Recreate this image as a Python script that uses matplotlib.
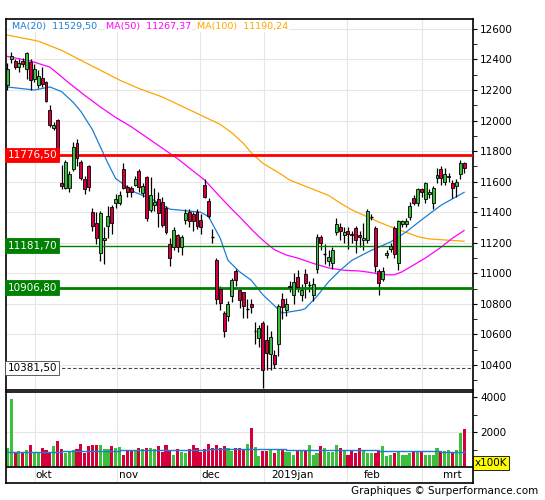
import matplotlib
matplotlib.use("Agg")
import matplotlib.pyplot as plt
from matplotlib.patches import Rectangle
import numpy as np

opens = [12230,12400,12390,12350,12390,12340,12385,12270,12230,12280,12255,12070,11950,12005,11590,11560,11560,11680,11850,11730,
         11620,11700,11400,11330,11130,11220,11310,11435,11460,11460,11680,11565,11560,11580,11670,11525,11630,11415,11450,11485,
         11465,11425,11190,11170,11250,11170,11350,11400,11390,11400,11350,11580,11475,11240,11085,10900,10740,10720,10850,11015,
         10890,10875,10760,10800,10620,10575,10675,10565,10470,10465,10535,10835,10760,10910,10860,10975,10860,10995,10920,10860,
         11030,11240,11120,11080,11070,11270,11300,11250,11280,11260,11295,11250,11220,11220,11370,11295,11015,10960,11120,11160,
         11295,11070,11320,11320,11370,11490,11460,11550,11485,11520,11460,11625,11685,11600,11630,11590,11570,11650,11720]
highs = [12380,12450,12400,12400,12410,12450,12400,12370,12330,12350,12260,12100,11990,12010,11710,11740,11670,11860,11880,11740,
         11640,11710,11430,11400,11410,11300,11440,11450,11520,11540,11720,11580,11570,11640,11680,11590,11640,11630,11560,11530,
         11500,11440,11230,11300,11260,11250,11420,11420,11400,11420,11390,11620,11490,11290,11100,10920,10750,10820,10970,11030,
         10900,10880,10830,10830,10680,10660,10690,10660,10620,10500,10800,10870,10840,10950,11000,11020,10930,11030,10950,10970,
         11260,11250,11190,11150,11170,11360,11330,11300,11300,11280,11310,11280,11330,11420,11390,11310,11030,11040,11150,11200,
         11310,11350,11350,11360,11470,11510,11560,11560,11600,11550,11570,11690,11700,11690,11660,11610,11620,11740,11730]
lows = [12200,12380,12340,12320,12350,12270,12200,12250,12210,12220,12120,11960,11940,11740,11550,11550,11530,11670,11700,11610,
        11520,11540,11280,11190,11080,11060,11230,11260,11430,11450,11550,11500,11500,11570,11530,11500,11340,11400,11410,11300,
        11300,11260,11050,11150,11140,11120,11320,11300,11280,11290,11260,11490,11360,11200,10800,10760,10580,10690,10810,10920,
        10770,10710,10710,10740,10540,10520,10250,10370,10370,10380,10460,10700,10720,10880,10800,10880,10820,10840,10880,10820,
        11000,11150,11060,11050,11030,11250,11220,11200,11160,11200,11130,11170,11150,11200,11350,11010,10860,10950,11100,11140,
        11100,11020,11300,11300,11350,11450,11440,11500,11460,11490,11420,11590,11580,11580,11600,11490,11500,11620,11660]
closes = [12340,12420,12350,12380,12370,12440,12265,12340,12290,12240,12130,11970,11970,11750,11570,11730,11650,11830,11755,11625,
          11550,11565,11310,11230,11395,11230,11375,11330,11485,11510,11560,11530,11530,11620,11565,11570,11360,11510,11470,11395,
          11315,11270,11100,11285,11170,11240,11395,11340,11340,11310,11300,11500,11375,11235,10830,10805,10620,10800,10955,10955,
          10825,10785,10765,10780,10625,10640,10365,10480,10580,10405,10785,10780,10800,10920,10940,10910,10890,10935,10925,10930,
          11240,11200,11125,11110,11150,11320,11280,11270,11260,11250,11220,11240,11230,11410,11370,11045,10935,11015,11130,11180,
          11125,11340,11340,11340,11440,11460,11550,11530,11590,11530,11560,11645,11625,11650,11640,11560,11600,11720,11690]
volumes = [1107,3875,840,929,840,964,1250,840,840,1071,964,840,1196,1500,1018,786,893,964,1018,1340,
           786,1196,1250,1250,1250,1018,1018,1196,1071,1143,714,929,964,929,1071,1018,1071,1107,1018,1196,
           840,1250,964,661,1018,840,786,1018,1286,1071,840,1018,1340,1071,1250,1071,1196,1071,929,1071,
           1107,1054,1340,2214,1143,607,893,929,1000,786,1018,1000,840,840,714,893,929,893,1286,714,
           786,1196,1071,840,840,1250,1071,964,714,929,786,1071,964,786,786,786,964,1196,607,714,
           786,893,714,714,786,893,893,840,661,714,714,1071,893,893,964,840,964,1964,2179]

ma20_idx = [0,7,11,14,17,19,22,24,26,28,33,37,42,50,52,55,57,60,63,66,71,76,77,80,83,86,89,94,99,103,107,112,118]
ma20_val = [12220,12200,12220,12190,12120,12060,11940,11830,11720,11620,11530,11490,11420,11400,11370,11230,11085,11010,10955,10860,10740,10760,10770,10850,10945,11020,11085,11150,11205,11270,11350,11445,11530]
ma50_idx = [0,6,11,16,20,24,28,32,36,40,44,47,51,55,58,60,63,65,67,69,72,75,79,83,87,91,94,96,98,100,102,104,108,112,115,118]
ma50_val = [12420,12390,12350,12245,12165,12090,12020,11960,11890,11820,11750,11690,11610,11500,11420,11370,11290,11240,11195,11155,11120,11100,11065,11035,11020,11015,11005,10995,10990,10990,11010,11040,11100,11170,11230,11280]
ma100_idx = [0,8,14,19,24,29,34,40,45,50,55,58,61,63,66,70,73,78,83,86,89,93,96,99,101,104,106,109,112,115,118]
ma100_val = [12560,12520,12460,12395,12330,12265,12210,12155,12095,12035,11975,11920,11850,11790,11720,11660,11610,11560,11510,11460,11415,11370,11335,11305,11285,11260,11240,11225,11220,11215,11210]
vma_idx = [0,13,14,28,29,45,46,51,52,63,64,72,95,96,104,112,116,118]
vma_val = [860,860,900,900,960,960,1000,1000,1030,1030,1050,1000,1000,920,900,850,880,920]

levels = [11776.5, 11181.7, 10906.8, 10381.5]
level_labels = ["11776,50", "11181,70", "10906,80", "10381,50"]
months = ["okt", "nov", "dec", "2019jan", "feb", "mrt"]
month_grid = [7.2, 28.3, 49.8, 66.3, 87.8, 107.2]
month_lab = [9.5, 31.2, 52.6, 73.6, 94.2, 114.9]

RED = "#d5003b"; GRN = "#3cbf3c"; BLUE = "#1a7fd4"; MAG = "#ff00ff"; ORG = "#ffa500"
W, H = 545, 500
fig = plt.figure(figsize=(5.45, 5.0), dpi=100)
def rect(l, t, r, b):
    return [l / W, 1 - b / H, (r - l) / W, (b - t) / H]
ax = fig.add_axes(rect(6, 19, 473, 390))
axv = fig.add_axes(rect(6, 392, 473, 483))
xl = (-0.34, 120.3)
n = len(closes)
x = np.arange(n)

for a in (ax, axv):
    a.set_xlim(*xl)
    for g in month_grid:
        a.axvline(g, color="#e6e6e6", lw=0.8, zorder=0)
    a.set_xticks([])
    a.yaxis.tick_right()
    for s in a.spines.values():
        s.set_color("black"); s.set_linewidth(1.2)

ax.set_ylim(10236, 12665)
ax.set_yticks(np.arange(10400, 12601, 200))
ax.set_yticklabels([str(v) for v in range(10400, 12601, 200)], fontsize=7.5)
ax.set_yticks(np.arange(10300, 12700, 100), minor=True)
ax.tick_params(axis="y", which="both", direction="out", length=3, pad=2)
for v in range(10400, 12601, 200):
    ax.axhline(v, color="#e6e6e6", lw=0.8, zorder=0)

ax.plot(ma100_idx, ma100_val, color=ORG, lw=0.9, zorder=2)
ax.plot(ma50_idx, ma50_val, color=MAG, lw=0.9, zorder=2)
ax.plot(ma20_idx, ma20_val, color=BLUE, lw=0.9, zorder=2)

for i in range(n):
    o, h, l, c = opens[i], highs[i], lows[i], closes[i]
    col = GRN if c >= o else RED
    ax.vlines(i, l, h, color="black", lw=0.9, zorder=3)
    lo, hi = min(o, c), max(o, c)
    if hi - lo < 8:
        ax.hlines(c, i - 0.35, i + 0.35, color="black", lw=1.0, zorder=4)
    else:
        ax.add_patch(Rectangle((i - 0.38, lo), 0.76, hi - lo, facecolor=col, edgecolor="black", lw=0.6, zorder=4))

ax.axhline(levels[0], color="red", lw=2, zorder=3)
ax.axhline(levels[1], color="green", lw=1, zorder=3)
ax.axhline(levels[2], color="green", lw=2, zorder=3)
ax.axhline(levels[3], color="#444444", lw=0.8, ls=(0, (3, 2)), zorder=3)
styles = [("red", "white", "red"), ("green", "white", "green"), ("green", "white", "green"), ("white", "black", "#444444")]
for lv, lab, (fc, tc, ec) in zip(levels, level_labels, styles):
    ax.text(0.003, lv, lab, transform=ax.get_yaxis_transform(), ha="left", va="center", fontsize=7.5, color=tc,
            bbox=dict(boxstyle="square,pad=0.2", fc=fc, ec=ec, lw=0.6), zorder=6)

leg = [("MA(20)  11529,50", BLUE, 12), ("MA(50)  11267,37", MAG, 106), ("MA(100)  11190,24", ORG, 197)]
for t, c, px in leg:
    fig.text(px / W, 1 - 27 / H, t, color=c, fontsize=6.8, va="center", ha="left",
             bbox=dict(fc="white", ec="none", pad=0.5))

axv.set_ylim(-914, 4286)
axv.set_yticks([2000, 4000])
axv.set_yticklabels(["2000", "4000"], fontsize=7.5)
axv.set_yticks([1000, 3000], minor=True)
axv.tick_params(axis="y", which="both", direction="out", length=3, pad=2)
axv.axhline(2000, color="#e6e6e6", lw=0.8, zorder=0)
vcols = [GRN if closes[i] >= opens[i] else RED for i in range(n)]
axv.bar(x, volumes, width=0.8, color=vcols, zorder=2)
axv.plot(vma_idx, vma_val, color=BLUE, lw=1.0, drawstyle="steps-post", zorder=3)
axv.axhline(0, color="black", lw=1.2, zorder=4)
for m, p in zip(months, month_lab):
    axv.text(p, -460, m, ha="center", va="center", fontsize=7.5)
fig.text(475 / W, 1 - 463 / H, "x100K", fontsize=7.5, va="center", ha="left",
         bbox=dict(boxstyle="square,pad=0.15", fc="yellow", ec="black", lw=0.6))
fig.text(538 / W, 1 - 491 / H, "Graphiques © Surperformance.com", fontsize=7.5, ha="right", va="center")

fig.savefig("out.png", dpi=100)
